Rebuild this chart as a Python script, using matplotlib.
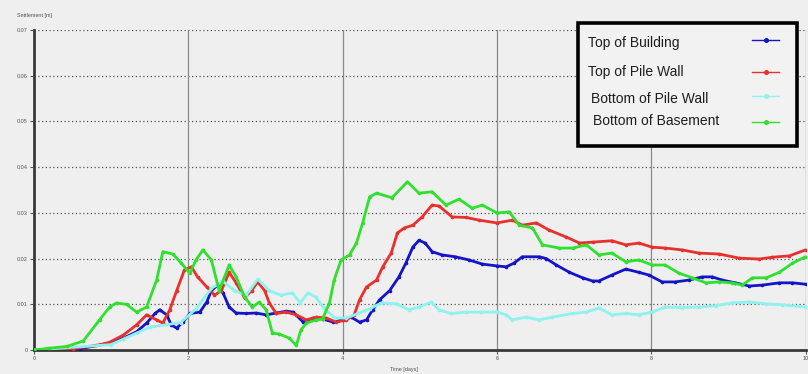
import matplotlib
matplotlib.use("Agg")
import matplotlib.pyplot as plt
from matplotlib.lines import Line2D
from matplotlib.patches import Rectangle

plt.rcParams['font.family'] = ['Liberation Sans', 'DejaVu Sans']

# Settlement histories (time in days, settlement in metres)
building_t = [0, 0.6, 0.98, 1.16, 1.33, 1.46, 1.57, 1.63, 1.72, 1.78,
              1.85, 1.93, 2.02, 2.15, 2.24, 2.3, 2.38, 2.45, 2.53, 2.62,
              2.75, 2.88, 3.01, 3.14, 3.27, 3.36, 3.49, 3.62, 3.74, 3.88,
              4.0, 4.11, 4.22, 4.31, 4.39, 4.48, 4.61, 4.73, 4.82, 4.91,
              4.99, 5.07, 5.16, 5.29, 5.46, 5.64, 5.81, 6.0, 6.12, 6.22,
              6.33, 6.55, 6.64, 6.77, 6.94, 7.11, 7.24, 7.32, 7.49, 7.67,
              7.84, 7.97, 8.14, 8.31, 8.49, 8.66, 8.79, 8.92, 9.09, 9.27,
              9.44, 9.66, 9.83, 10.0]
building_s = [0, 0.0003, 0.0015, 0.0026, 0.0040, 0.0059, 0.0080, 0.0088, 0.0077, 0.0055,
              0.0048, 0.0061, 0.0080, 0.0083, 0.0105, 0.0130, 0.0142, 0.0125, 0.0094, 0.0081,
              0.0080, 0.0081, 0.0077, 0.0081, 0.0085, 0.0083, 0.0061, 0.0070, 0.0068, 0.0061,
              0.0066, 0.0072, 0.0061, 0.0066, 0.0088, 0.0110, 0.0130, 0.0160, 0.0190, 0.0225,
              0.0240, 0.0234, 0.0215, 0.0208, 0.0204, 0.0197, 0.0188, 0.0184, 0.0182, 0.0190,
              0.0204, 0.0204, 0.0200, 0.0186, 0.0170, 0.0158, 0.0151, 0.0151, 0.0164, 0.0177,
              0.0170, 0.0164, 0.0149, 0.0149, 0.0153, 0.0160, 0.0160, 0.0153, 0.0147, 0.0140,
              0.0142, 0.0147, 0.0147, 0.0144]

pile_top_t = [0, 0.5, 0.81, 0.98, 1.16, 1.33, 1.46, 1.59, 1.67, 1.76,
              1.85, 1.95, 2.04, 2.12, 2.24, 2.34, 2.43, 2.53, 2.62, 2.73,
              2.82, 2.9, 2.99, 3.05, 3.14, 3.27, 3.4, 3.53, 3.66, 3.79,
              3.92, 4.05, 4.15, 4.22, 4.31, 4.44, 4.52, 4.63, 4.71, 4.8,
              4.91, 5.03, 5.16, 5.25, 5.42, 5.6, 5.77, 6.0, 6.2, 6.33,
              6.51, 6.68, 6.9, 7.07, 7.24, 7.49, 7.67, 7.84, 8.01, 8.18,
              8.4, 8.62, 8.88, 9.14, 9.4, 9.57, 9.79, 10.0]
pile_top_s = [0, 0.0003, 0.0010, 0.0017, 0.0033, 0.0055, 0.0077, 0.0066, 0.0059, 0.0088,
              0.0130, 0.0175, 0.0182, 0.0160, 0.0138, 0.0120, 0.0130, 0.0170, 0.0147, 0.0114,
              0.0130, 0.0149, 0.0130, 0.0103, 0.0080, 0.0083, 0.0077, 0.0066, 0.0072, 0.0070,
              0.0061, 0.0066, 0.0077, 0.0110, 0.0138, 0.0153, 0.0182, 0.0212, 0.0256, 0.0267,
              0.0273, 0.0291, 0.0317, 0.0315, 0.0291, 0.0290, 0.0284, 0.0278, 0.0284, 0.0273,
              0.0278, 0.0262, 0.0247, 0.0234, 0.0236, 0.0239, 0.0230, 0.0234, 0.0225, 0.0223,
              0.0219, 0.0212, 0.0210, 0.0201, 0.0199, 0.0203, 0.0206, 0.0219]

pile_bottom_t = [0, 1.0, 1.5, 1.9, 2.1, 2.3, 2.45, 2.6, 2.75, 2.9,
                 3.05, 3.2, 3.35, 3.45, 3.55, 3.65, 3.75, 3.9, 4.05, 4.2,
                 4.35, 4.5, 4.7, 4.86, 4.99, 5.15, 5.25, 5.4, 5.6, 5.8,
                 6.0, 6.12, 6.2, 6.38, 6.55, 6.72, 6.98, 7.16, 7.32, 7.49,
                 7.67, 7.84, 8.01, 8.18, 8.4, 8.62, 8.84, 9.05, 9.27, 9.49,
                 9.7, 10.0]
pile_bottom_s = [0, 0.0012, 0.0050, 0.0060, 0.0090, 0.0135, 0.0150, 0.0130, 0.0120, 0.0155,
                 0.0130, 0.0120, 0.0125, 0.0103, 0.0125, 0.0116, 0.0094, 0.0070, 0.0070, 0.0080,
                 0.0090, 0.0103, 0.0101, 0.0088, 0.0094, 0.0105, 0.0088, 0.0080, 0.0083, 0.0083,
                 0.0083, 0.0077, 0.0066, 0.0072, 0.0066, 0.0072, 0.0080, 0.0083, 0.0092, 0.0077,
                 0.0080, 0.0077, 0.0083, 0.0094, 0.0093, 0.0094, 0.0097, 0.0103, 0.0105, 0.0101,
                 0.0099, 0.0094]

basement_t = [0, 0.2, 0.43, 0.64, 0.85, 0.98, 1.07, 1.2, 1.33, 1.46,
              1.59, 1.67, 1.8, 1.91, 2.02, 2.1, 2.19, 2.3, 2.4, 2.53,
              2.62, 2.73, 2.83, 2.92, 3.01, 3.09, 3.18, 3.31, 3.4, 3.46,
              3.53, 3.66, 3.74, 3.83, 3.89, 3.98, 4.09, 4.18, 4.26, 4.35,
              4.44, 4.64, 4.84, 4.99, 5.16, 5.34, 5.51, 5.68, 5.81, 6.0,
              6.16, 6.29, 6.46, 6.59, 6.81, 6.98, 7.16, 7.32, 7.49, 7.67,
              7.84, 8.01, 8.18, 8.36, 8.53, 8.71, 8.88, 9.05, 9.18, 9.31,
              9.49, 9.66, 9.83, 10.0]
basement_s = [0, 0.0004, 0.0008, 0.0020, 0.0066, 0.0094, 0.0103, 0.0100, 0.0083, 0.0094,
              0.0153, 0.0215, 0.0210, 0.0190, 0.0168, 0.0197, 0.0219, 0.0197, 0.0130, 0.0186,
              0.0160, 0.0116, 0.0094, 0.0105, 0.0088, 0.0037, 0.0035, 0.0026, 0.0010, 0.0044,
              0.0059, 0.0066, 0.0068, 0.0103, 0.0153, 0.0197, 0.0208, 0.0234, 0.0278, 0.0335,
              0.0343, 0.0333, 0.0368, 0.0343, 0.0346, 0.0317, 0.0330, 0.0310, 0.0317, 0.0300,
              0.0302, 0.0273, 0.0267, 0.0230, 0.0223, 0.0223, 0.0230, 0.0208, 0.0212, 0.0193,
              0.0197, 0.0186, 0.0186, 0.0168, 0.0158, 0.0147, 0.0149, 0.0147, 0.0142, 0.0158,
              0.0158, 0.0170, 0.0190, 0.0204]

series_labels = ["Top of Building", "Top of Pile Wall", "Bottom of Pile Wall", "Bottom of Basement"]
series_colors = ["#1414c8", "#e8302c", "#8ef2ee", "#2fe02f"]

x_ticks = [0, 2, 4, 6, 8, 10]
y_ticks = [0, 0.01, 0.02, 0.03, 0.04, 0.05, 0.06, 0.07]

bg = "#efefef"
fig = plt.figure(figsize=(8.08, 3.74), dpi=100, facecolor=bg)
ax = fig.add_axes([0.042, 0.064, 0.955, 0.856], facecolor=bg)

ax.set_xlim(0, 10)
ax.set_ylim(0, 0.07)

# grid: dotted horizontals, thin solid verticals
for yv in y_ticks[1:]:
    ax.axhline(yv, color="#555555", lw=0.9, ls=(0, (1, 2)), zorder=1)
for xv in x_ticks[1:]:
    ax.axvline(xv, color="#8a8a8a", lw=0.9, zorder=1)

series = [
    (pile_bottom_t, pile_bottom_s, 2),
    (building_t, building_s, 0),
    (pile_top_t, pile_top_s, 1),
    (basement_t, basement_s, 3),
]
for t, s, k in series:
    ax.plot(t, s, color=series_colors[k], lw=2.0, marker="o", ms=1.6,
            mec=series_colors[k], zorder=3 + k * 0.1,
            solid_joinstyle="round", solid_capstyle="round")

for side in ("top", "right"):
    ax.spines[side].set_visible(False)
ax.spines["left"].set_color("#3a3a3a")
ax.spines["left"].set_linewidth(2.0)
ax.spines["bottom"].set_color("#3a3a3a")
ax.spines["bottom"].set_linewidth(2.0)

ax.set_xticks(x_ticks)
ax.set_xticklabels([str(v) for v in x_ticks])
ax.set_yticks(y_ticks)
ax.set_yticklabels(["0"] + [f"{v:.2f}" for v in y_ticks[1:]])
ax.tick_params(axis="both", labelsize=4, colors="#555555", length=3, width=0.8, pad=1.5)

fig.text(0.021, 0.958, "Settlement [m]", fontsize=4, color="#555555", ha="left", va="center")
fig.text(0.5, 0.012, "Time [days]", fontsize=4, color="#555555", ha="center", va="center")

# legend box drawn in figure coordinates
W, H = 808.0, 374.0
def fx(px):
    return px / W
def fy(py):
    return 1 - py / H

box = Rectangle((fx(578), fy(146)), fx(797) - fx(578), fy(23) - fy(146),
                transform=fig.transFigure, facecolor="#f2f2f2", edgecolor="black",
                lw=2.6, zorder=10)
fig.add_artist(box)

text_pos = [(588, 43), (588, 72), (591, 99), (593, 121)]
sample_y = [40, 72, 96, 122]
for k, label in enumerate(series_labels):
    tx, ty = text_pos[k]
    fig.text(fx(tx), fy(ty), label, fontsize=10, color="#1e1e1e",
             ha="left", va="center", zorder=11)
    ly = fy(sample_y[k])
    fig.add_artist(Line2D([fx(752), fx(779)], [ly, ly], transform=fig.transFigure,
                          color=series_colors[k], lw=1.0, zorder=11))
    fig.add_artist(Line2D([fx(765.5)], [ly], transform=fig.transFigure,
                          color=series_colors[k], marker="o", ms=2.6, lw=0, zorder=11))

fig.savefig("out.png", dpi=100, facecolor=bg)
